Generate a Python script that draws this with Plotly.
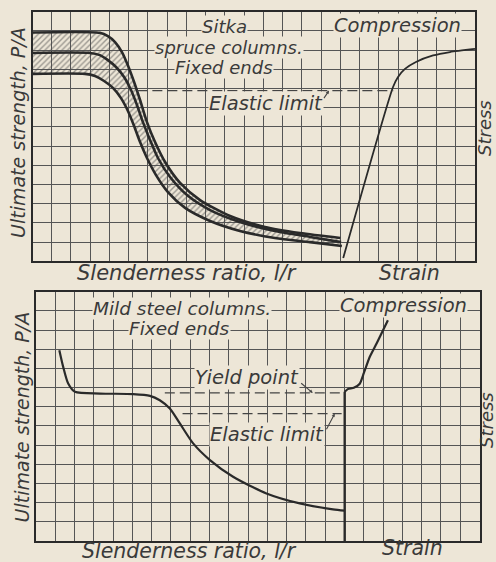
import plotly.graph_objects as go

# ---------------- data (grid units: 23 columns x 13 rows per panel) ----------------
# Sitka spruce columns, fixed ends: ultimate strength band vs slenderness ratio
spruce_upper_x = [0, 3.5, 3.92, 4.29, 4.65, 4.96, 5.28, 5.59, 5.95, 6.37, 6.89, 7.67, 8.71, 10.27, 12.08, 13.9, 16.0]
spruce_upper_y = [11.92, 11.9, 11.73, 11.42, 10.9, 10.2, 9.34, 8.4, 7.25, 6.21, 5.17, 4.08, 3.19, 2.36, 1.79, 1.47, 1.21]
spruce_mid_x = [0, 2.99, 3.5, 3.92, 4.34, 4.76, 5.12, 5.43, 5.74, 6.11, 6.52, 7.15, 8.03, 9.23, 10.78, 12.6, 14.42, 16.04]
spruce_mid_y = [10.85, 10.85, 10.74, 10.48, 10.12, 9.6, 8.92, 8.14, 7.25, 6.32, 5.38, 4.39, 3.45, 2.67, 2.05, 1.58, 1.27, 1.0]
spruce_lower_x = [0, 2.73, 3.25, 3.72, 4.18, 4.6, 4.96, 5.28, 5.59, 5.95, 6.42, 7.04, 7.93, 9.23, 10.78, 12.6, 14.42, 16.08]
spruce_lower_y = [9.76, 9.76, 9.65, 9.39, 9.03, 8.5, 7.83, 7.05, 6.21, 5.38, 4.49, 3.6, 2.78, 2.1, 1.58, 1.21, 1.0, 0.8]
# spruce compression stress-strain curve
spruce_strain_x = [16.15, 18.74, 19.0, 19.36, 19.93, 20.82, 21.7, 23.0]
spruce_strain_y = [0.17, 9.08, 9.6, 10.02, 10.38, 10.72, 10.9, 11.06]
spruce_elastic_x = [5.45, 18.75]
spruce_elastic_y = [8.89, 8.89]

# Mild steel columns, fixed ends
steel_col_x = [1.21, 1.41, 1.67, 2.02, 3.32, 5.04, 5.91, 6.42, 6.94, 7.46, 8.15, 9.02, 10.22, 11.95, 13.68, 15.4, 16.01]
steel_col_y = [9.95, 9.08, 8.21, 7.78, 7.69, 7.66, 7.57, 7.34, 6.91, 6.13, 5.09, 4.22, 3.35, 2.48, 1.96, 1.65, 1.58]
# steel compression stress-strain curve (vertical elastic part, yield step, hardening)
steel_strain_x = [16.01, 16.01, 16.17, 16.48, 16.79, 17.0, 17.3, 17.67, 18.25]
steel_strain_y = [0.0, 7.78, 7.92, 7.99, 8.2, 8.75, 9.58, 10.31, 11.51]
steel_yield_x = [6.68, 16.0]
steel_yield_y = [7.72, 7.72]
steel_elastic_x = [7.6, 15.85]
steel_elastic_y = [6.64, 6.64]

N_COLS, N_ROWS = 23, 13

# ---------------- style ----------------
W, H = 496, 562
PAPER = "#EDE6D7"
INK = "#2a2a2a"
GRID = "#555555"
TXT = "#3a3a3a"
FONT = "DejaVu Sans"


def px(x):
    return x / W


def py(y):
    return 1 - y / H


fig = go.Figure()

# ---- top panel traces ----
fig.add_trace(go.Scatter(x=spruce_lower_x, y=spruce_lower_y, mode="lines",
                         line=dict(color=INK, width=2.6, shape="spline", smoothing=0.7),
                         xaxis="x", yaxis="y", hoverinfo="skip"))
fig.add_trace(go.Scatter(x=spruce_upper_x, y=spruce_upper_y, mode="lines",
                         line=dict(color=INK, width=2.6, shape="spline", smoothing=0.7),
                         fill="tonexty", fillcolor="rgba(0,0,0,0)",
                         fillpattern=dict(shape="/", fgcolor="#4a4a4a", bgcolor="rgba(0,0,0,0)",
                                          size=4, solidity=0.35),
                         xaxis="x", yaxis="y", hoverinfo="skip"))
fig.add_trace(go.Scatter(x=spruce_mid_x, y=spruce_mid_y, mode="lines",
                         line=dict(color=INK, width=2.6, shape="spline", smoothing=0.7),
                         xaxis="x", yaxis="y", hoverinfo="skip"))
fig.add_trace(go.Scatter(x=spruce_strain_x, y=spruce_strain_y, mode="lines",
                         line=dict(color=INK, width=1.8, shape="spline", smoothing=0.6),
                         xaxis="x", yaxis="y", hoverinfo="skip"))
fig.add_trace(go.Scatter(x=spruce_elastic_x, y=spruce_elastic_y, mode="lines",
                         line=dict(color="#444444", width=1.2, dash="10px,5px"),
                         xaxis="x", yaxis="y", hoverinfo="skip"))

# ---- bottom panel traces ----
fig.add_trace(go.Scatter(x=steel_col_x, y=steel_col_y, mode="lines",
                         line=dict(color=INK, width=2.2, shape="spline", smoothing=0.7),
                         xaxis="x2", yaxis="y2", hoverinfo="skip"))
# straight (vertical) elastic part
fig.add_trace(go.Scatter(x=steel_strain_x[:2], y=steel_strain_y[:2], mode="lines",
                         line=dict(color=INK, width=2.4),
                         xaxis="x2", yaxis="y2", hoverinfo="skip"))
# yield step and hardening part
fig.add_trace(go.Scatter(x=steel_strain_x[1:], y=steel_strain_y[1:], mode="lines",
                         line=dict(color=INK, width=2.2, shape="spline", smoothing=0.5),
                         xaxis="x2", yaxis="y2", hoverinfo="skip"))
fig.add_trace(go.Scatter(x=steel_yield_x, y=steel_yield_y, mode="lines",
                         line=dict(color="#444444", width=1.2, dash="10px,5px"),
                         xaxis="x2", yaxis="y2", hoverinfo="skip"))
fig.add_trace(go.Scatter(x=steel_elastic_x, y=steel_elastic_y, mode="lines",
                         line=dict(color="#444444", width=1.2, dash="10px,5px"),
                         xaxis="x2", yaxis="y2", hoverinfo="skip"))

axis_common = dict(showticklabels=False, ticks="", dtick=1, tick0=0,
                   showgrid=True, gridcolor=GRID, gridwidth=1.1, zeroline=False,
                   showline=True, linecolor=INK, linewidth=1.6, mirror=True,
                   fixedrange=True)

fig.update_layout(
    width=W, height=H, margin=dict(l=0, r=0, t=0, b=0),
    paper_bgcolor=PAPER, plot_bgcolor=PAPER, showlegend=False,
    xaxis=dict(domain=[px(32.5), px(475)], range=[0, N_COLS], anchor="y", **axis_common),
    yaxis=dict(domain=[py(261.3), py(11.7)], range=[0, N_ROWS], anchor="x", **axis_common),
    xaxis2=dict(domain=[px(36), px(479.5)], range=[0, N_COLS], anchor="y2", **axis_common),
    yaxis2=dict(domain=[py(541), py(291.7)], range=[0, N_ROWS], anchor="x2", **axis_common),
)

ann = []


def label(text, x, y, size=19.5, angle=0, bg=True):
    ann.append(dict(text="<i>" + text + "</i>", x=px(x), y=py(y), xref="paper", yref="paper",
                    showarrow=False, textangle=angle, xanchor="center", yanchor="middle",
                    font=dict(family=FONT, size=size, color=TXT),
                    bgcolor=PAPER if bg else None, borderpad=0))


# top panel
label("Sitka", 224, 26.5, size=18)
label("spruce columns.", 229, 47.2, size=18)
label("Fixed ends", 224, 67.2, size=18)
label("Elastic limit", 266, 103)
label("Compression", 397, 26)
label("Stress", 485, 128, size=18, angle=-90, bg=False)
label("Ultimate strength, P/A", 18, 133, size=19, angle=-90, bg=False)
label("Slenderness ratio, l/r", 187, 273, size=21, bg=False)
label("Strain", 409, 273, size=20.5, bg=False)
# bottom panel
label("Mild steel columns.", 182, 308.5, size=18.5)
label("Fixed ends", 179, 329, size=18.5)
label("Yield point", 247, 377)
label("Elastic limit", 267, 434)
label("Compression", 403, 305)
label("Stress", 486, 420, size=18, angle=-90, bg=False)
label("Ultimate strength, P/A", 21.7, 416.7, size=19, angle=-90, bg=False)
label("Slenderness ratio, l/r", 189, 550.5, size=20.5, bg=False)
label("Strain", 412, 548, size=20.5, bg=False)

# pointer arrows
arrow_common = dict(text="", showarrow=True, arrowhead=2, arrowsize=0.6, arrowwidth=1.1,
                    arrowcolor="#444444", axref="pixel", ayref="pixel")
ann.append(dict(x=15.41, y=8.89, xref="x", yref="y", ax=-6, ay=9, **arrow_common))
ann.append(dict(x=14.35, y=7.72, xref="x2", yref="y2", ax=-13, ay=-11, **arrow_common))
ann.append(dict(x=15.49, y=6.64, xref="x2", yref="y2", ax=-9, ay=17, **arrow_common))

fig.update_layout(annotations=ann)

fig.write_html("out.html", config={"displayModeBar": False},
               post_script="document.body.style.margin='0';")
